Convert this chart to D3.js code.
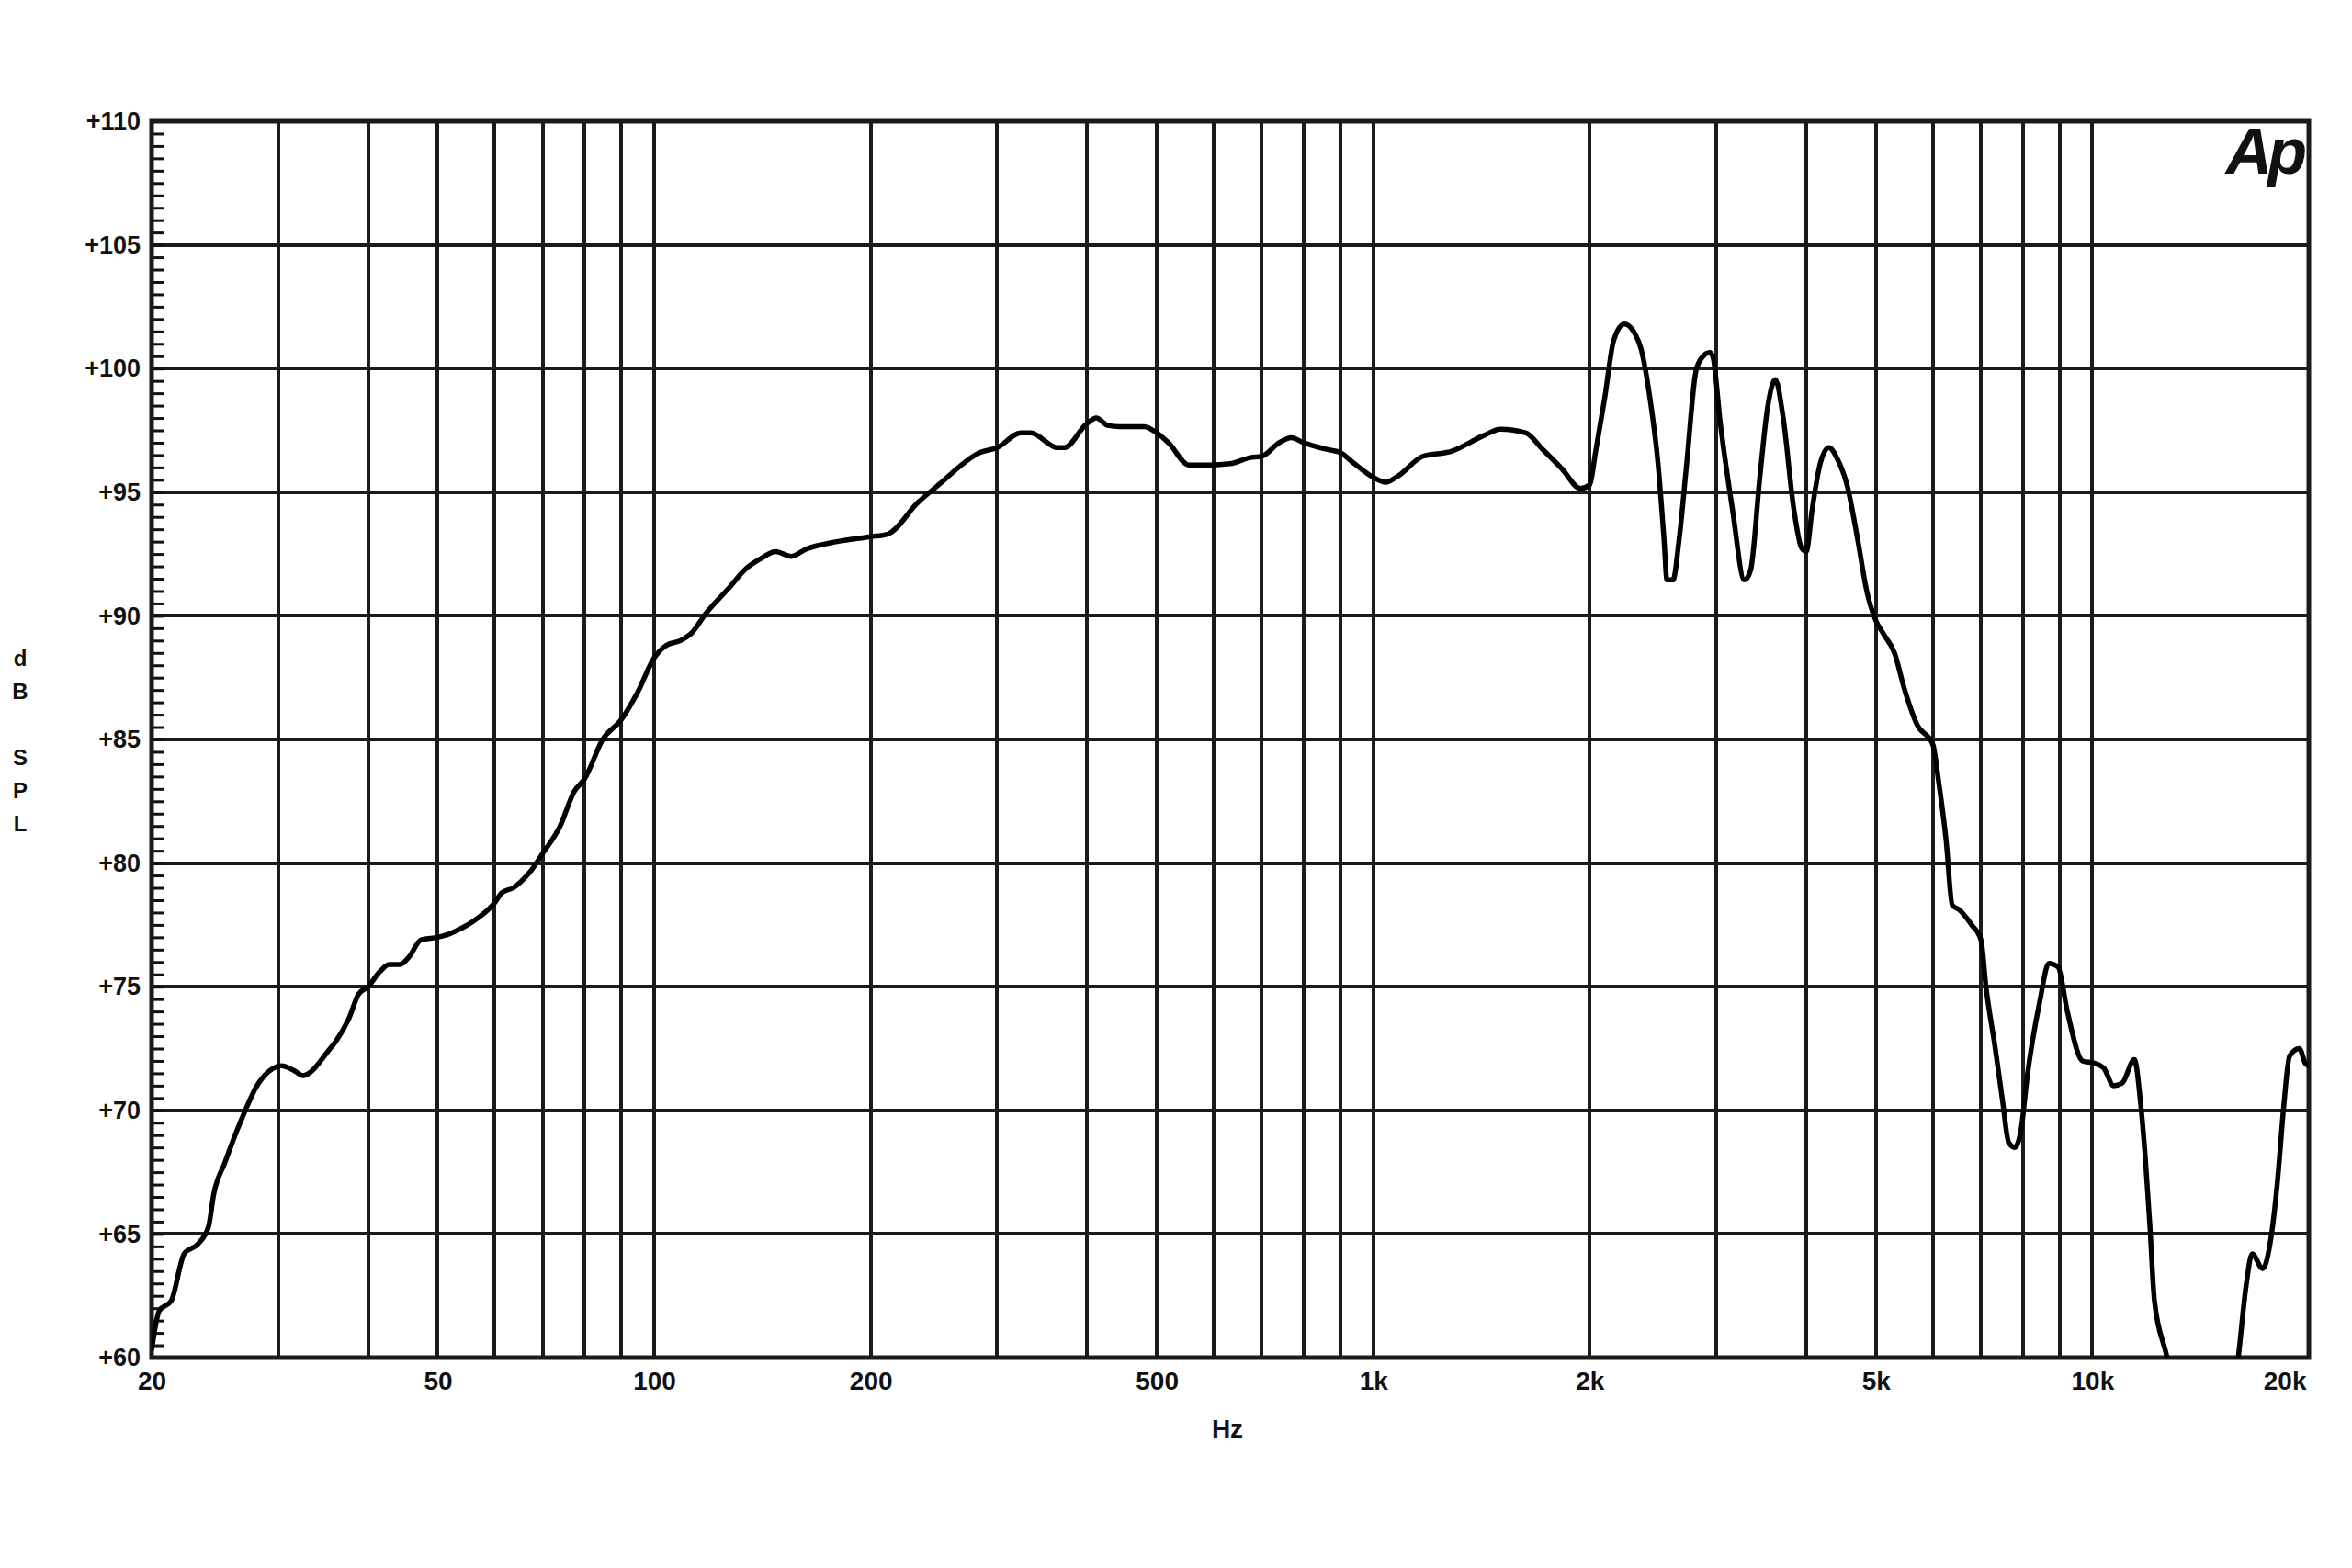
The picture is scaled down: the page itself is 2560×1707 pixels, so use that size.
<!DOCTYPE html>
<html>
<head>
<meta charset="utf-8">
<script src="https://cdn.jsdelivr.net/npm/d3@7"></script>
<style>
  body { margin: 0; background: #fff; }
  svg { display: block; }
  text { font-family: "Liberation Sans", Arial, sans-serif; font-weight: bold; fill: #111; }
</style>
</head>
<body>
<svg id="chart" width="2560" height="1707"></svg>
<script>
  // frequency response (Hz / dB SPL)
  var freqHz = [20, 20.5, 21.3, 22.2, 23.2, 24.0, 24.4, 25.3, 26.3, 27.0, 27.9, 29.5, 30.3, 31.6, 32.5, 33.1,
    35.2, 36.1, 37.6, 38.8, 40, 41.5, 42.8, 44.3, 45.6, 47.4, 50, 51.5, 53.4, 55.7, 60, 61.4, 63.7, 67,
    70, 74, 77.4, 80, 84.8, 90, 94.8, 100, 103.9, 108.8, 112.7, 118, 126.8, 134.1, 140.5, 147.5, 155,
    162.7, 179.5, 200, 211, 233, 248.7, 283.6, 300, 323.5, 333.8, 364, 372, 399, 412, 427, 444, 480,
    500, 519, 554, 592, 632, 675, 700, 740, 769, 800, 855, 900, 937, 1000, 1041, 1082, 1172, 1284,
    1427, 1502, 1628, 1724, 1829, 1941, 2000, 2037, 2098, 2160, 2234, 2312, 2357, 2428, 2488, 2537,
    2561, 2611, 2663, 2729, 2810, 2866, 2936, 2965, 3038, 3157, 3283, 3348, 3448, 3536, 3624, 3714,
    3843, 3940, 4000, 4079, 4179, 4300, 4427, 4558, 4716, 4856, 5000, 5128, 5306, 5483, 5704, 6000,
    6116, 6262, 6385, 6538, 6794, 7000, 7113, 7320, 7500, 7650, 7800, 7962, 8120, 8450, 8700, 8960,
    9230, 9690, 10075, 10380, 10700, 11000, 11440, 11670, 11840, 12020, 12200, 12680, 13200, 14500,
    15500, 15970, 16360, 16680, 17250, 17750, 18100, 18450, 18810, 19400, 19780, 20000];
  var splDb = [60.3, 61.9, 62.3, 64.2, 64.6, 65.3, 66.6, 67.9, 69.2, 70.0, 70.9, 71.7, 71.8, 71.6, 71.4, 71.5,
    72.4, 72.8, 73.7, 74.7, 75.0, 75.6, 75.9, 75.9, 76.2, 76.9, 77.0, 77.1, 77.3, 77.6, 78.4, 78.8, 79.0, 79.6,
    80.4, 81.5, 82.9, 83.4, 85.0, 85.8, 86.9, 88.3, 88.8, 89.0, 89.3, 90.1, 91.1, 91.9, 92.3, 92.6, 92.4,
    92.7, 93.0, 93.2, 93.3, 94.6, 95.3, 96.6, 96.8, 97.4, 97.4, 96.8, 96.8, 97.75, 98.0, 97.7, 97.65, 97.65,
    97.4, 97.0, 96.1, 96.1, 96.15, 96.4, 96.45, 97.0, 97.2, 97.0, 96.75, 96.6, 96.2, 95.6, 95.4, 95.65, 96.45, 96.65,
    97.3, 97.55, 97.4, 96.7, 95.95, 95.15, 95.3, 96.6, 98.8, 101.15, 101.8, 101.4, 100.8, 98.7, 96.2, 93.1,
    91.45, 91.45, 93.1, 96.2, 99.9, 100.45, 100.65, 100.5, 97.8, 94.35, 91.45, 91.85, 95.6, 98.45, 99.55, 98.05,
    94.35, 92.75, 92.6, 94.35, 96.1, 96.8, 96.3, 95.3, 93.1, 91.0, 89.8, 89.25, 88.5, 87.0, 85.6, 84.8,
    83.25, 80.9, 78.3, 78.1, 77.5, 76.9, 75.0, 72.6, 70.4, 68.7, 68.5, 69.25, 71.4, 74.4, 75.95, 75.8,
    74.0, 72.0, 71.9, 71.7, 71.0, 71.1, 72.05, 70.3, 68.2, 65.4, 62.3, 60.1, 57.5, 55.0,
    57.5, 60.1, 62.9, 64.2, 63.6, 65.0, 67.2, 70.1, 72.2, 72.5, 71.9, 71.8];

  var xTickValues = [20, 50, 100, 200, 500, 1000, 2000, 5000, 10000, 20000];
  var xTickLabels = ["20", "50", "100", "200", "500", "1k", "2k", "5k", "10k", "20k"];
  var yTickValues = [60, 65, 70, 75, 80, 85, 90, 95, 100, 105, 110];
  var yTitleLetters = ["d", "B", "S", "P", "L"];
  var yTitleOffsets = [0, 1, 3, 4, 5];

  var plotLeft = 165, plotRight = 2513, plotTop = 132, plotBottom = 1478;

  var x = d3.scaleLog().domain([20, 20000]).range([plotLeft, plotRight]);
  var y = d3.scaleLinear().domain([60, 110]).range([plotBottom, plotTop]);

  var svg = d3.select("#chart");
  svg.append("rect").attr("width", 2560).attr("height", 1707).attr("fill", "#fff");

  // grid
  var grid = svg.append("g").attr("stroke", "#1b1b1b").attr("stroke-width", 4);
  grid.selectAll(".vx")
    .data(x.ticks().filter(function(d) { return d > 20 && d < 20000; }))
    .enter().append("line")
    .attr("x1", function(d) { return Math.round(x(d)); })
    .attr("x2", function(d) { return Math.round(x(d)); })
    .attr("y1", plotTop).attr("y2", plotBottom);
  grid.selectAll(".hy")
    .data(yTickValues.slice(1, -1))
    .enter().append("line")
    .attr("x1", plotLeft).attr("x2", plotRight)
    .attr("y1", function(d) { return Math.round(y(d)); })
    .attr("y2", function(d) { return Math.round(y(d)); });

  // minor ticks along the left edge, pointing inwards
  var minor = d3.axisRight(y).tickValues(d3.range(60, 110.01, 0.5)).tickSize(13).tickFormat("");
  svg.append("g").attr("transform", "translate(" + plotLeft + ",0)").call(minor)
    .call(function(g) { g.select(".domain").remove(); })
    .selectAll("line").attr("stroke", "#111").attr("stroke-width", 3);

  svg.append("rect")
    .attr("x", plotLeft).attr("y", plotTop)
    .attr("width", plotRight - plotLeft).attr("height", plotBottom - plotTop)
    .attr("fill", "none").attr("stroke", "#1b1b1b").attr("stroke-width", 5);

  // response curve
  svg.append("clipPath").attr("id", "plot-clip")
    .append("rect").attr("x", plotLeft).attr("y", plotTop - 4)
    .attr("width", plotRight - plotLeft).attr("height", plotBottom - plotTop + 4);

  var line = d3.line()
    .x(function(d, i) { return x(freqHz[i]); })
    .y(function(d) { return y(d); })
    .curve(d3.curveMonotoneX);

  svg.append("path")
    .attr("clip-path", "url(#plot-clip)")
    .attr("d", line(splDb))
    .attr("fill", "none")
    .attr("stroke", "#000")
    .attr("stroke-width", 5.5)
    .attr("stroke-linejoin", "round");

  // axes labels
  var xAxis = d3.axisBottom(x).tickValues(xTickValues).tickSize(0).tickPadding(15)
    .tickFormat(function(d, i) { return xTickLabels[i]; });
  var gx = svg.append("g").attr("transform", "translate(0," + plotBottom + ")").call(xAxis);
  gx.select(".domain").remove();
  gx.selectAll("text").style("font-size", "28px").attr("fill", "#111");
  gx.selectAll(".tick").filter(function(d) { return d === 20000; })
    .select("text").attr("text-anchor", "end").attr("x", -3);

  var yAxis = d3.axisLeft(y).tickValues(yTickValues).tickSize(0).tickPadding(12)
    .tickFormat(function(d) { return "+" + d; });
  var gy = svg.append("g").attr("transform", "translate(" + plotLeft + ",0)").call(yAxis);
  gy.select(".domain").remove();
  gy.selectAll("text").style("font-size", "27px").attr("fill", "#111");

  svg.append("text")
    .attr("x", 1336).attr("y", 1565)
    .attr("text-anchor", "middle")
    .style("font-size", "28px")
    .text("Hz");

  svg.selectAll(".ytitle")
    .data(yTitleLetters)
    .enter().append("text")
    .attr("x", 22)
    .attr("y", function(d, i) { return 716 + yTitleOffsets[i] * 36; })
    .attr("text-anchor", "middle")
    .attr("dominant-baseline", "central")
    .style("font-size", "24px")
    .text(function(d) { return d; });

  // Ap logo
  svg.append("text")
    .attr("x", 2506).attr("y", 189)
    .attr("text-anchor", "end")
    .style("font-size", "70px")
    .style("font-style", "italic")
    .style("letter-spacing", "-5px")
    .attr("fill", "#000")
    .text("Ap");
</script>
</body>
</html>
